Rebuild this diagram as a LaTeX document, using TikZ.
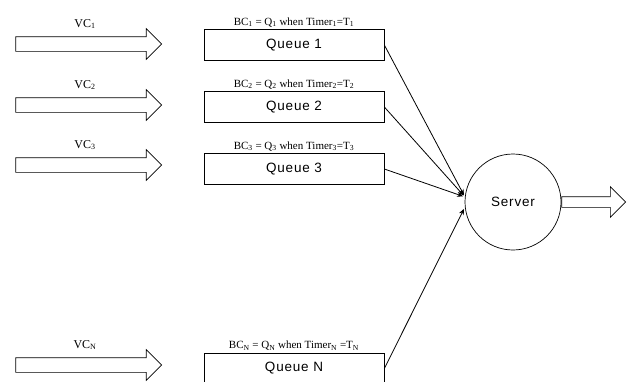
\documentclass[tikz,border=0pt]{standalone}
\usepackage{fontspec}
\setmainfont{Liberation Serif}
\newfontfamily\queuefont{Liberation Sans}[LetterSpace=6]
\usepackage{tikz}
\usetikzlibrary{shapes.arrows}
\usetikzlibrary{arrows.meta}

\begin{document}
\begin{tikzpicture}[x=1pt,y=-1pt,
    bigarrow/.style={single arrow, draw, inner xsep=0pt, inner ysep=7pt,
        single arrow head extend=8pt, minimum height=146pt, line width=0.7pt},
    queue/.style={draw, line width=0.7pt, minimum width=180pt, minimum height=31pt,
        font=\queuefont\fontsize{13.5}{15}\selectfont},
    bclabel/.style={font=\fontsize{11}{12}\selectfont, inner sep=2pt},
    vclabel/.style={font=\fontsize{12}{14}\selectfont},
    conn/.style={-{Stealth[length=6pt,width=5pt]}, line width=0.8pt, shorten >=2pt}]
    \useasboundingbox (0,0) rectangle (627,381);
    \node[bigarrow] (vc1) at (85,44) {};
    \node[bigarrow] (vc2) at (85,105) {};
    \node[bigarrow] (vc3) at (85,165) {};
    \node[bigarrow] (vcn) at (85,365) {};
    \node[vclabel] (lvc1) at (85,24) {VC\textsubscript{1}};
    \node[vclabel] (lvc2) at (85,85) {VC\textsubscript{2}};
    \node[vclabel] (lvc3) at (85,145) {VC\textsubscript{3}};
    \node[vclabel] (lvcn) at (85,345) {VC\textsubscript{N}};
    \node[queue] (q1) at (294,45) {Queue 1};
    \node[queue] (q2) at (294,107) {Queue 2};
    \node[queue] (q3) at (294,169) {Queue 3};
    \node[queue] (qn) at (294,368.5) {Queue N};
    \node[bclabel, above] (bc1) at (q1.north) {BC\textsubscript{1} = Q\textsubscript{1} when Timer\textsubscript{1}=T\textsubscript{1}};
    \node[bclabel, above] (bc2) at (q2.north) {BC\textsubscript{2} = Q\textsubscript{2} when Timer\textsubscript{2}=T\textsubscript{2}};
    \node[bclabel, above] (bc3) at (q3.north) {BC\textsubscript{3} = Q\textsubscript{3} when Timer\textsubscript{3}=T\textsubscript{3}};
    \node[bclabel, above] (bcn) at (qn.north) {BC\textsubscript{N} = Q\textsubscript{N} when Timer\textsubscript{N} =T\textsubscript{N}};
    \node[circle, draw, line width=0.7pt, minimum size=96pt,
        font=\queuefont\fontsize{13.5}{15}\selectfont] (srv) at (513,202) {Server};
    \node[bigarrow, anchor=west, minimum height=64pt, inner ysep=5pt,
        single arrow head extend=10pt] (out) at (srv.east) {};
    \draw[conn] (q1.east) -- (srv.174);
    \draw[conn] (q2.east) -- (srv.174);
    \draw[conn] (q3.east) -- (srv.174);
    \draw[conn] (qn.east) -- (srv.186);
\end{tikzpicture}
\end{document}
